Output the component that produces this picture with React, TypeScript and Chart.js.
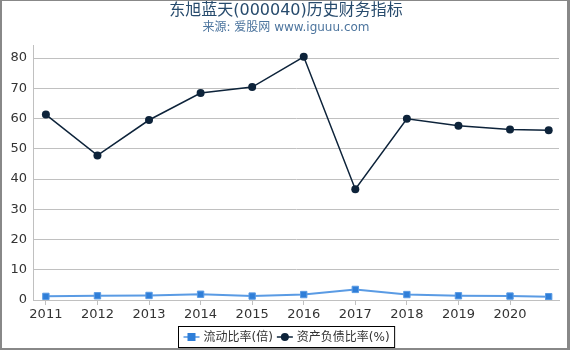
import React, { useEffect, useRef } from "react";
import { Chart, registerables } from "chart.js";

Chart.register(...registerables);

const TITLE = "东旭蓝天(000040)历史财务指标";
const SUBTITLE = "来源: 爱股网 www.iguuu.com";
const xPositions = [2011, 2012, 2013, 2014, 2015, 2016, 2017, 2018, 2019, 2020, 2020.75];
const tickYears = [2011, 2012, 2013, 2014, 2015, 2016, 2017, 2018, 2019, 2020];
const yTicks = [0, 10, 20, 30, 40, 50, 60, 70, 80];
const currentRatio = [1.2, 1.4, 1.5, 1.9, 1.3, 1.8, 3.5, 1.8, 1.4, 1.3, 1.1];
const debtRatio = [61.3, 47.8, 59.5, 68.4, 70.4, 80.4, 36.6, 59.9, 57.6, 56.4, 56.1];
const seriesNames = ["流动比率(倍)", "资产负债比率(%)"];

const FONT = "'DejaVu Sans', 'Noto Sans CJK SC', sans-serif";
const BLUE = "#2f7ed8";
const NAVY = "#0d233a";

const overlay = {
  id: "overlay",
  afterDraw(chart: any) {
    const ctx = chart.ctx;
    ctx.save();
    ctx.textAlign = "center";
    ctx.textBaseline = "middle";
    ctx.fillStyle = "#274b6d";
    ctx.font = "16px " + FONT;
    ctx.fillText(TITLE, 285, 11);
    ctx.fillStyle = "#4d759e";
    ctx.font = "12px " + FONT;
    ctx.fillText(SUBTITLE, 285, 28);

    // legend
    ctx.font = "12px " + FONT;
    const w1 = ctx.measureText(seriesNames[0]).width;
    const w2 = ctx.measureText(seriesNames[1]).width;
    const itemW = (w: number) => 16 + 4 + w;
    const total = 5 + itemW(w1) + 4 + itemW(w2) + 5;
    const left = Math.round(285 - total / 2) + 0.5;
    const top = 326.5;
    const h = 21;
    ctx.strokeStyle = "#000";
    ctx.lineWidth = 1;
    ctx.strokeRect(left, top, total, h);
    const cy = top + h / 2;
    let x = left + 5;
    ctx.strokeStyle = "#7fb1ea";
    ctx.lineWidth = 2;
    ctx.beginPath();
    ctx.moveTo(x, cy);
    ctx.lineTo(x + 16, cy);
    ctx.stroke();
    ctx.fillStyle = BLUE;
    ctx.fillRect(x + 4, cy - 4, 8, 8);
    ctx.fillStyle = "#333";
    ctx.textAlign = "left";
    ctx.fillText(seriesNames[0], x + 20, cy + 1);
    x += itemW(w1) + 4;
    ctx.strokeStyle = NAVY;
    ctx.lineWidth = 1.5;
    ctx.beginPath();
    ctx.moveTo(x, cy);
    ctx.lineTo(x + 16, cy);
    ctx.stroke();
    ctx.fillStyle = NAVY;
    ctx.beginPath();
    ctx.arc(x + 8, cy, 4, 0, Math.PI * 2);
    ctx.fill();
    ctx.fillStyle = "#333";
    ctx.fillText(seriesNames[1], x + 20, cy + 1);
    ctx.restore();
  },
};

export default function App() {
  const ref = useRef<HTMLCanvasElement>(null);
  useEffect(() => {
    document.body.style.margin = "0";
    const chart = new Chart(ref.current!, {
      type: "line",
      data: {
        datasets: [
          {
            label: seriesNames[0],
            data: xPositions.map((x, i) => ({ x, y: currentRatio[i] })),
            borderColor: "#5a9be4",
            backgroundColor: BLUE,
            borderWidth: 2,
            pointStyle: "rect",
            pointRadius: 4.5,
            pointBorderWidth: 1,
            pointBorderColor: "#5a9be4",
            pointBackgroundColor: BLUE,
          },
          {
            label: seriesNames[1],
            data: xPositions.map((x, i) => ({ x, y: debtRatio[i] })),
            borderColor: NAVY,
            backgroundColor: NAVY,
            borderWidth: 1.5,
            pointStyle: "circle",
            pointRadius: 4,
            pointBorderWidth: 0,
            pointBackgroundColor: NAVY,
          },
        ],
      },
      options: {
        animation: false,
        responsive: false,
        layout: { padding: { top: 45, right: 12, bottom: 26, left: 0 } },
        plugins: { legend: { display: false }, title: { display: false }, tooltip: { enabled: false } },
        scales: {
          x: {
            type: "linear",
            min: 2010.75,
            max: 2020.95,
            afterBuildTicks: (s: any) => {
              s.ticks = tickYears.map((v) => ({ value: v }));
            },
            afterFit: (s: any) => {
              s.height = 24;
            },
            grid: { drawOnChartArea: false, drawTicks: true, tickLength: 5, color: "#c0c0c0" },
            border: { display: true, color: "#c0c0c0" },
            ticks: {
              color: "#333",
              font: { size: 13, family: FONT },
              padding: 2,
              maxRotation: 0,
              autoSkip: false,
              callback: (v: any) => String(v),
            },
          },
          y: {
            type: "linear",
            min: 0,
            max: 84.3,
            afterBuildTicks: (s: any) => {
              s.ticks = yTicks.map((v) => ({ value: v }));
            },
            afterFit: (s: any) => {
              s.width = 32;
            },
            grid: { color: "#c0c0c0", drawTicks: false },
            border: { display: true, color: "#c0c0c0" },
            ticks: {
              color: "#333",
              font: { size: 13, family: FONT },
              padding: 6,
              callback: (v: any) => String(v),
            },
          },
        },
      },
      plugins: [overlay],
    } as any);
    return () => chart.destroy();
  }, []);
  return (
    <div
      style={{
        position: "absolute",
        left: 0,
        top: 0,
        width: 570,
        height: 350,
        boxSizing: "border-box",
        borderLeft: "2px solid #888",
        borderTop: "1px solid #888",
        borderRight: "3px solid #888",
        borderBottom: "2px solid #888",
        overflow: "hidden",
      }}
    >
      <canvas ref={ref} width={570} height={350} style={{ position: "absolute", left: -1, top: -1 }} />
    </div>
  );
}
